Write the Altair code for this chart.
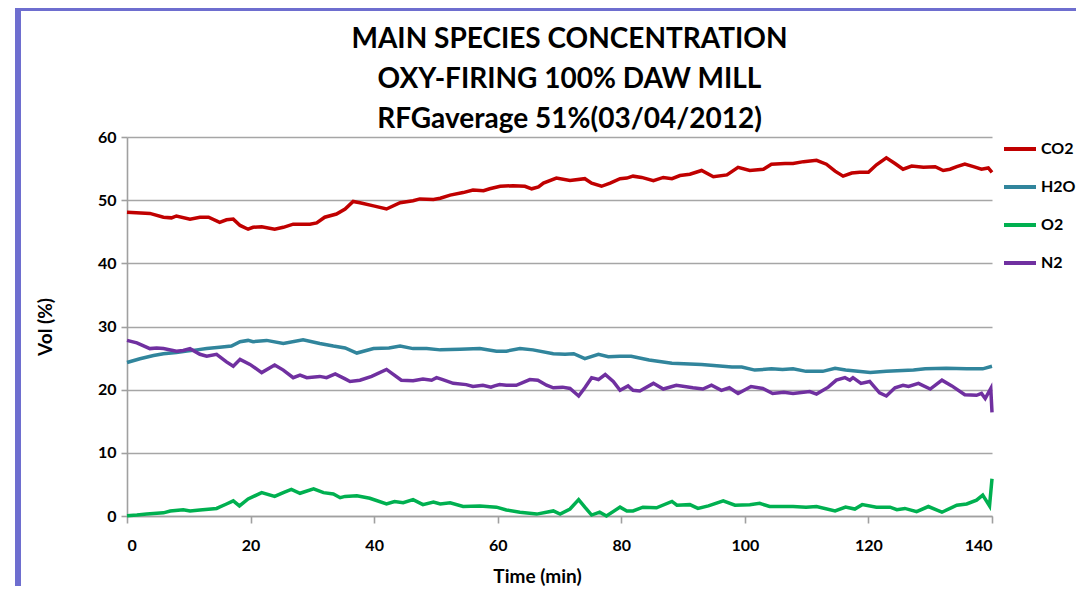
import altair as alt
import pandas as pd

# ---- data ----
co2_t = [0, 3.7, 5.9, 7.2, 8.0, 10.2, 11.8, 13.2, 15.0, 16.1, 17.2, 18.3, 19.6, 20.4, 21.8, 23.9, 25.3, 26.9, 29.6, 30.7, 32.0, 33.9, 35.3,
         36.6, 37.7, 39.9, 42.0, 44.2, 46.3, 47.4, 49.6, 50.7, 52.3, 54.4, 56.0, 57.7, 58.7, 60.4, 62.5, 64.4, 65.5, 66.6, 67.4, 69.5,
         71.7, 74.1, 75.2, 76.8, 78.2, 79.8, 80.9, 81.9, 83.3, 85.2, 86.8, 88.2, 89.5, 91.1, 93.0, 94.9, 97.1, 98.9, 100.8, 103.0, 104.3,
         106.5, 107.8, 109.5, 111.6, 113.2, 114.6, 115.9, 117.3, 118.6, 120.0, 121.3, 122.9, 124.3, 125.6, 127.0, 128.9, 130.8, 132.1,
         133.2, 134.3, 135.6, 137.0, 138.3, 139.4, 140.0]
co2_v = [48.1, 47.9, 47.3, 47.2, 47.5, 47.0, 47.3, 47.3, 46.5, 46.9, 47.0, 46.0, 45.4, 45.7, 45.8, 45.4, 45.7, 46.2, 46.2, 46.4, 47.3, 47.8, 48.6,
         49.8, 49.6, 49.1, 48.6, 49.6, 49.9, 50.2, 50.1, 50.3, 50.8, 51.2, 51.6, 51.5, 51.8, 52.2, 52.3, 52.2, 51.8, 52.1, 52.7, 53.5,
         53.1, 53.4, 52.7, 52.2, 52.7, 53.4, 53.5, 53.8, 53.6, 53.1, 53.6, 53.4, 53.9, 54.1, 54.7, 53.7, 54.0, 55.2, 54.7, 54.9, 55.7,
         55.8, 55.8, 56.1, 56.3, 55.7, 54.6, 53.8, 54.3, 54.4, 54.4, 55.6, 56.7, 55.8, 54.9, 55.4, 55.2, 55.3, 54.7,
         54.9, 55.3, 55.7, 55.3, 54.9, 55.1, 54.4]

h2o_t = [0, 2.1, 4.3, 5.9, 8.0, 9.7, 11.3, 12.9, 15.0, 16.9, 18.3, 19.6, 20.4, 22.6, 25.3, 28.5, 31.2, 33.4, 35.3,
         37.2, 39.9, 42.4, 44.2, 46.3, 48.5, 50.7, 53.9, 57.1, 59.8, 61.4, 63.6, 65.7, 69.0, 70.9,
         72.3, 74.1, 76.3, 77.9, 79.8, 81.6, 84.5, 88.2, 93.0, 97.9, 99.5, 101.6, 104.3, 106.1,
         107.8, 109.9, 112.6, 114.6, 116.3, 118.3, 120.3, 122.9, 127.3, 129.2, 132.6, 135.9, 138.5, 140.0]
h2o_v = [24.3, 24.9, 25.4, 25.7, 25.9, 26.1, 26.3, 26.5, 26.7, 26.9, 27.6, 27.8, 27.6, 27.8, 27.3, 27.9, 27.3, 26.9, 26.6,
         25.8, 26.5, 26.6, 26.9, 26.5, 26.5, 26.3, 26.4, 26.5, 26.1, 26.1, 26.5, 26.3, 25.7, 25.6,
         25.7, 24.9, 25.6, 25.2, 25.3, 25.3, 24.7, 24.2, 24.0, 23.6, 23.6, 23.1, 23.3, 23.2,
         23.3, 22.9, 22.9, 23.4, 23.1, 22.9, 22.7, 22.9, 23.1, 23.3, 23.4, 23.3, 23.3, 23.7]

o2_t = [0, 1.6, 3.2, 5.9, 7.0, 9.1, 10.2, 11.8, 14.5, 16.1, 17.2, 18.2, 19.6, 21.8, 23.9, 25.3, 26.6, 28.0, 30.2, 31.8, 33.4, 34.5,
        35.3, 37.2, 39.3, 42.0, 43.3, 44.7, 46.3, 47.9, 49.6, 50.7, 52.3, 54.4, 57.1, 59.8, 61.4, 63.6, 66.3, 69.0, 70.1,
        71.7, 73.1, 74.1, 75.2, 76.5, 77.6, 79.8, 80.9, 81.9, 83.5, 85.7, 88.2, 89.0, 91.1, 92.4, 94.1, 96.5, 98.4, 100.8, 102.4, 104.0,
        106.5, 107.8, 109.9, 111.6, 114.6, 116.3, 117.8, 119.0, 121.3, 123.5, 124.6, 125.9, 127.8, 129.7, 131.9, 134.3, 135.9,
        137.5, 138.5, 139.6, 140.0]
o2_v = [0.05, 0.15, 0.3, 0.5, 0.8, 1.0, 0.8, 0.95, 1.2, 1.9, 2.4, 1.6, 2.7, 3.7, 3.1, 3.7, 4.2, 3.6, 4.3, 3.7, 3.5, 2.9,
        3.1, 3.2, 2.8, 1.9, 2.3, 2.1, 2.6, 1.8, 2.2, 1.9, 2.1, 1.5, 1.6, 1.4, 0.95, 0.6, 0.3, 0.8, 0.3,
        1.1, 2.6, 1.4, 0.15, 0.6, 0.0, 1.4, 0.8, 0.8, 1.4, 1.3, 2.3, 1.7, 1.8, 1.2, 1.6, 2.4, 1.7, 1.8, 2.0, 1.5,
        1.5, 1.5, 1.4, 1.5, 0.8, 1.4, 1.1, 1.8, 1.4, 1.4, 1.0, 1.2, 0.7, 1.5, 0.6, 1.7, 1.9,
        2.5, 3.3, 1.6, 5.9]

n2_t = [0, 1.6, 3.7, 4.8, 5.9, 8.0, 9.1, 10.2, 11.8, 12.9, 14.5, 16.1, 17.2, 18.3, 19.9, 21.8, 23.9, 25.3, 26.9, 28.0, 29.1, 31.2, 32.3, 33.7,
        35.3, 36.1, 37.7, 39.6, 42.0, 44.4, 46.3, 47.9, 49.3, 50.1, 51.1, 52.8, 54.9, 56.0, 57.6, 58.9, 59.5, 60.3, 61.4, 63.0, 65.2, 66.5,
        67.9, 69.0, 70.5, 71.7, 73.1, 74.1, 75.2, 76.3, 77.4, 78.7, 79.8, 81.1, 81.9, 83.0, 85.2, 86.8, 88.9, 91.6, 93.2, 94.6, 96.2, 97.5,
        98.9, 101.0, 102.9, 104.5, 106.3, 107.8, 110.5, 111.6, 113.5, 114.8, 116.2, 117.0, 117.5, 118.8, 120.2, 121.8, 122.9, 124.3,
        125.6, 126.5, 128.1, 130.0, 131.9, 133.5, 135.6, 137.5, 138.3, 138.9, 139.8, 140.0]
n2_v = [27.8, 27.4, 26.5, 26.6, 26.5, 26.1, 26.2, 26.5, 25.6, 25.3, 25.6, 24.4, 23.7, 24.8, 24.0, 22.7, 23.9, 23.1, 21.9, 22.3, 21.9, 22.1, 21.9, 22.5,
        21.7, 21.3, 21.5, 22.1, 23.2, 21.5, 21.4, 21.7, 21.5, 21.9, 21.6, 21.0, 20.8, 20.5, 20.7, 20.4, 20.6, 20.8, 20.7, 20.7, 21.6, 21.5,
        20.7, 20.3, 20.4, 20.2, 19.0, 20.3, 21.9, 21.6, 22.4, 21.3, 19.9, 20.6, 19.9, 19.8, 21.0, 20.1, 20.7, 20.3, 20.1, 20.7, 19.9, 20.3,
        19.4, 20.5, 20.2, 19.4, 19.6, 19.4, 19.7, 19.3, 20.4, 21.5, 21.9, 21.5, 21.9, 21.0, 21.3, 19.5, 19.0, 20.3,
        20.7, 20.5, 21.0, 20.1, 21.5, 20.6, 19.2, 19.1, 19.4, 18.6, 20.2, 16.4]

series_names = ["CO2", "H2O", "O2", "N2"]
series_colors = ["#c00000", "#31859c", "#00b050", "#7030a0"]
title_lines = ["MAIN SPECIES CONCENTRATION", "OXY-FIRING 100% DAW MILL", "RFGaverage 51%(03/04/2012)"]
x_ticks = [0, 20, 40, 60, 80, 100, 120, 140]
y_ticks = [0, 10, 20, 30, 40, 50, 60]

rows = []
for name, ts, vs in [("CO2", co2_t, co2_v), ("H2O", h2o_t, h2o_v), ("O2", o2_t, o2_v), ("N2", n2_t, n2_v)]:
    for i, (t, v) in enumerate(zip(ts, vs)):
        rows.append({"series": name, "time": t, "vol": v, "order": i})
df = pd.DataFrame(rows)

FONT = "Lato"
W, H = 865, 379

lines = alt.Chart(df).mark_line(strokeWidth=3.5, clip=False).encode(
    x=alt.X("time:Q",
            scale=alt.Scale(domain=[0, 140], nice=False),
            axis=alt.Axis(values=x_ticks, grid=False, title="Time (min)",
                          titleX=410, titleY=60, titleAlign="center", titleBaseline="middle",
                          tickSize=7, labelPadding=14)),
    y=alt.Y("vol:Q",
            scale=alt.Scale(domain=[0, 60], nice=False),
            axis=alt.Axis(values=y_ticks, grid=True, title="Vol (%)",
                          titleX=-82, titleY=H / 2, titleAngle=-90, titleAlign="center", titleBaseline="middle",
                          tickSize=6, labelPadding=5)),
    color=alt.Color("series:N",
                    scale=alt.Scale(domain=series_names, range=series_colors),
                    legend=alt.Legend(title=None, orient="none", legendX=875, legendY=-6,
                                      symbolType="stroke", symbolSize=1024, symbolStrokeWidth=4,
                                      labelFontSize=16, labelFontWeight="bold", labelFont=FONT,
                                      labelColor="black", labelOffset=3, rowPadding=12, padding=0)),
    order="order:Q",
)

frame = alt.Chart(alt.Data(values=[{}])).mark_rect(
    filled=False, stroke="#6e6ecf", strokeWidth=6, clip=False
).encode(
    x=alt.value(-109), x2=alt.value(1000), y=alt.value(-129), y2=alt.value(480)
)

chart = alt.layer(frame, lines).properties(
    width=W, height=H,
    background="white",
    title=alt.TitleParams(text=title_lines, fontSize=28, font=FONT, fontWeight="bold", color="black",
                          lineHeight=40, anchor="middle", frame="group", dx=10, offset=-129),
    autosize=alt.AutoSizeParams(type="none"),
    padding={"left": 119, "top": 129, "right": 84, "bottom": 70},
).configure_view(stroke=None).configure_axis(
    labelFont=FONT, labelFontSize=16, labelFontWeight="bold", labelColor="black",
    titleFont=FONT, titleFontSize=19, titleFontWeight="bold", titleColor="black",
    domainColor="#a0a0a0", domainWidth=1.6, tickColor="#a0a0a0", tickWidth=1.6,
    gridColor="#a6a6a6", gridWidth=1.6,
)

chart.save("out.html", embed_options={"renderer": "svg", "actions": False})
